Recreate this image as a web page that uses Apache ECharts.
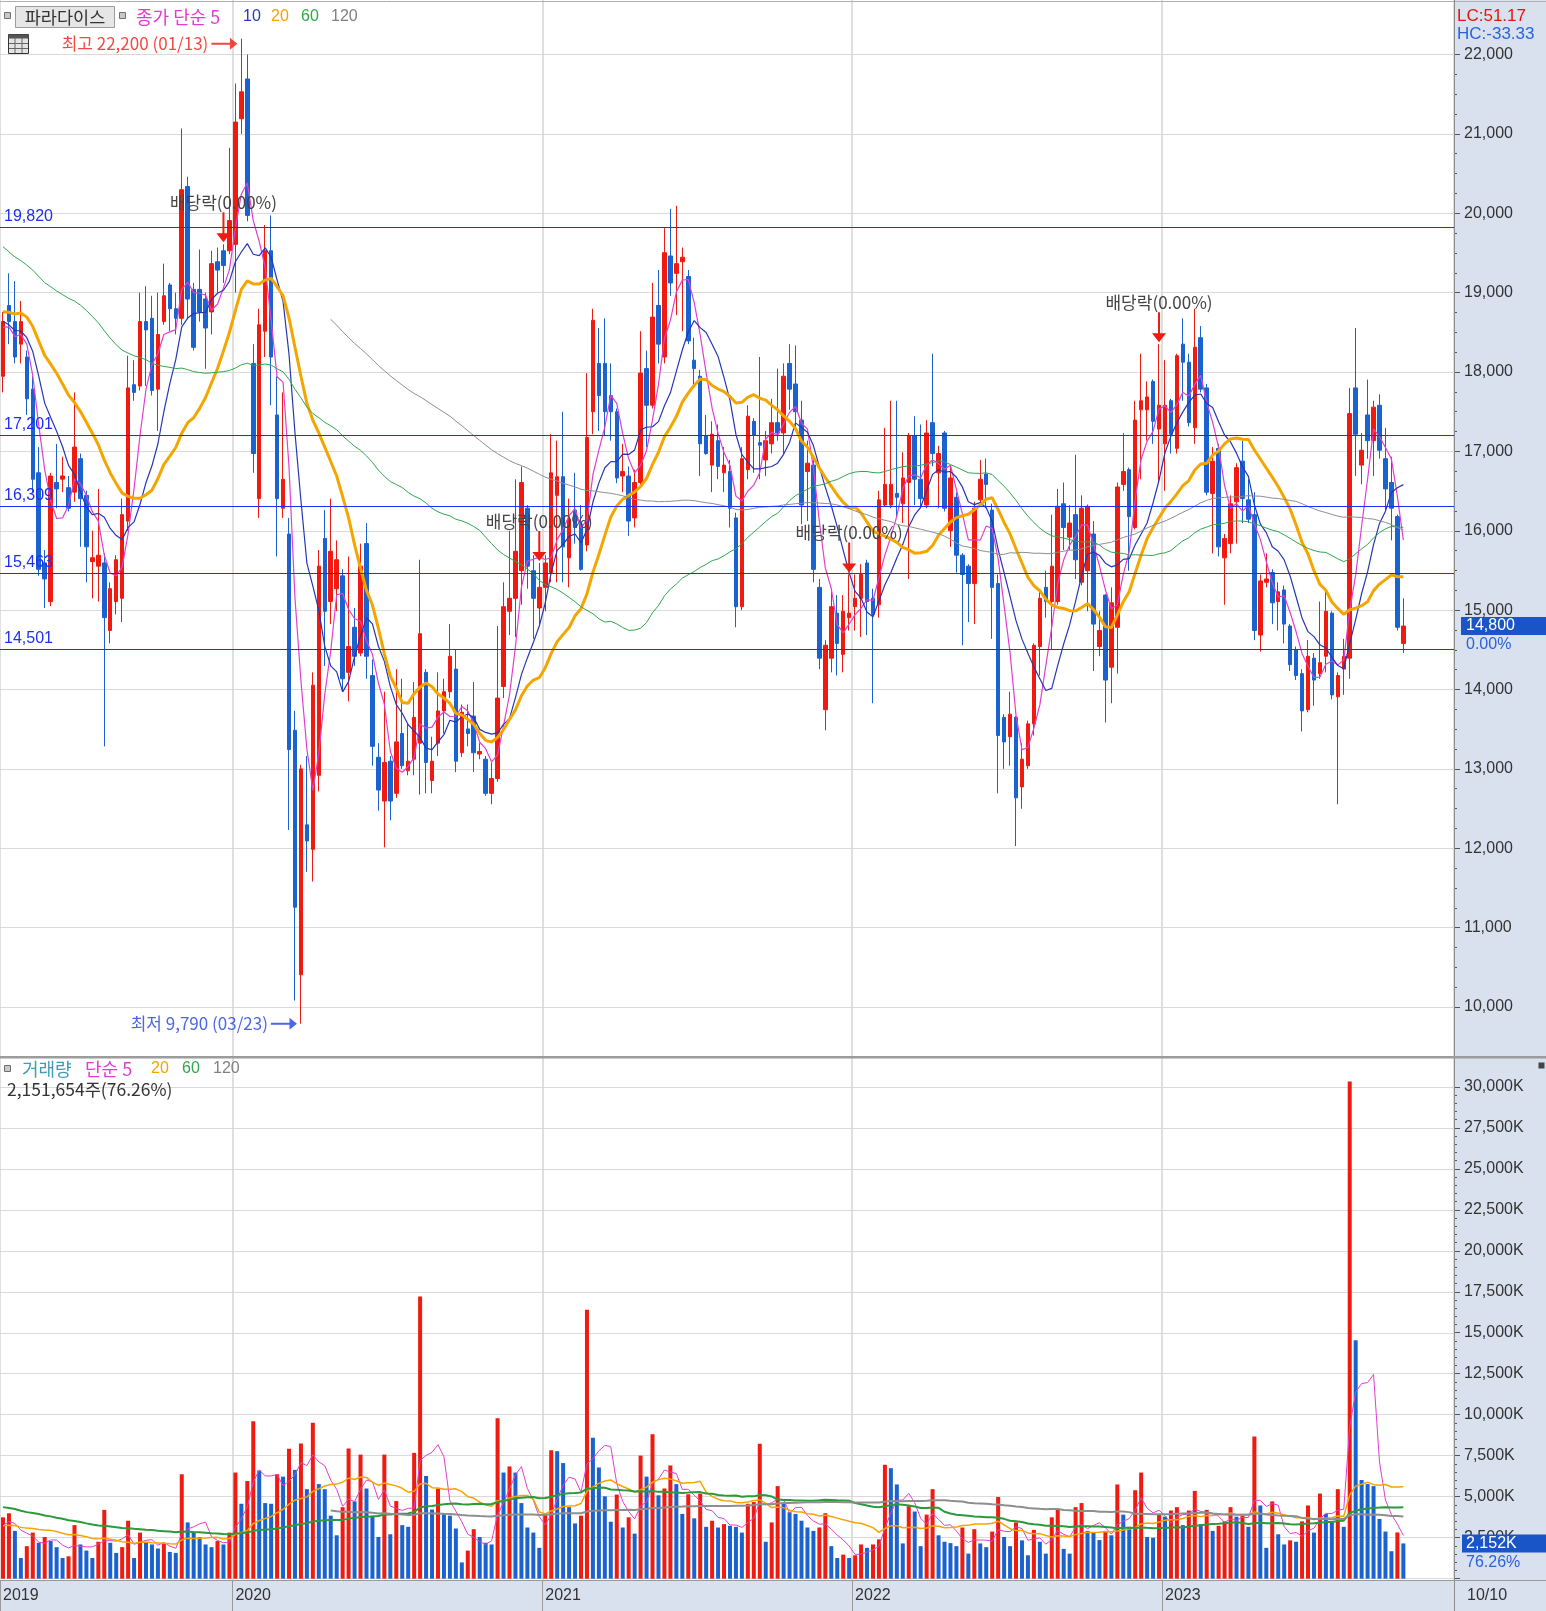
<!DOCTYPE html>
<html><head><meta charset="utf-8">
<script src="https://cdn.jsdelivr.net/npm/echarts@6.0.0/dist/echarts.min.js"></script>
<style>html,body{margin:0;padding:0;background:#fff}#c{width:1546px;height:1611px}</style>
</head><body><div id="c"></div>
<script>
// ---------------- DATA (weekly, from 2019-04-08) ----------------
const startDate = '2019-04-08';
const opens = [
17946,18838,18635,18351,18189,17784,16730,15595,15108,16608,
16650,16543,16487,16908,16446,15611,15554,15595,14743,15108,
15149,16122,17840,17824,18635,18676,17784,18635,19097,18797,
18676,20338,19041,19041,18919,18757,19389,19527,19527,19608,
21190,21692,18108,16405,18514,19527,17459,16284,15959,13486,
10405,12295,11986,12919,15903,15108,15270,15432,14216,14784,
14459,15838,14175,13146,12595,13097,12692,13446,12976,13122,
13324,14216,12854,13324,13730,13973,14257,13203,13503,13665,
13187,13122,12692,12878,14038,14986,15149,15497,16284,15497,
15027,15287,15473,16446,16681,15659,16260,16081,15821,17500,
18108,18108,17703,17500,16689,16689,16162,16608,18043,17581,
18838,18189,19462,19243,19389,19203,18149,17946,17200,16827,
17135,16730,16746,16162,15043,16770,17378,17111,16892,17095,
17362,17232,18108,17849,17394,16746,16827,15287,13746,14395,
14962,14443,14905,15043,15149,15594,15149,15068,16324,16324,
16470,16340,16608,17200,16649,16324,17362,16730,17232,16000,
16422,15692,15554,15335,16389,16714,16260,15335,13649,13405,
13649,12773,13040,13567,14541,15287,15108,15108,16340,15919,
16203,15351,15497,15959,14541,15189,14281,14784,16584,16770,
16041,17524,17524,17881,17281,17095,17638,17038,18351,18124,
17297,18432,17800,16470,17038,15659,15838,16365,16876,16389,
16203,14686,15351,15473,15108,15254,14800,14500,14200,13746,
14395,14200,14419,14962,13908,14257,14395,17800,16827,17459,
17135,17581,16908,16608,16178,14581];
const closes = [
18635,18635,18189,18635,17662,16649,15514,15392,16689,16527,
16690,16284,17054,16405,15798,15660,15692,14906,15270,15635,
16203,17800,17743,18635,18530,17767,18473,18960,18797,18676,
20297,18919,18311,18757,18554,19365,19284,19341,19908,21149,
21530,19973,16973,18595,19527,18189,16405,16649,13243,11257,
13000,12092,14054,15554,14986,15741,15635,14135,14541,14419,
15554,14419,13284,12733,13081,12595,13340,13040,13097,13649,
14703,13081,13097,13730,13973,14419,13097,13713,13446,13203,
13219,12692,12878,13892,15043,15149,15741,16608,15554,15149,
15287,15594,16730,16681,15797,16146,16041,15514,17176,18651,
17703,17500,17500,16665,16746,16122,16608,17986,17581,18692,
18351,19503,19122,19365,19446,18392,18043,17095,16973,17216,
16811,16827,16284,15043,16908,17443,17200,17078,17135,17362,
17232,17946,17784,17500,16324,16851,15514,14395,14557,15043,
14581,14986,14962,15149,15449,15108,14946,16389,16584,16584,
16422,16665,17200,16649,16405,17232,16973,16973,16284,16665,
15692,15449,15335,16284,16649,16584,15287,13421,13340,13689,
12635,13122,13567,14557,15149,15108,15554,16308,16041,16097,
15635,16284,16308,14824,14743,14119,15092,16551,16746,16178,
17394,17638,17686,17378,17581,17581,17216,18205,18124,17362,
18311,17784,16486,16876,15797,15903,16340,16795,16405,16146,
14743,15368,15392,15092,15230,14824,14313,14176,13730,14419,
14119,14338,14986,13932,14176,14419,17476,17216,17014,17135,
17557,17014,16527,16284,14784,14800];
const lows = [
17743,18351,18108,18108,17460,16487,15433,15027,15050,16284,
16487,16243,16365,15798,15351,15149,15108,13284,14581,14946,
14849,16000,17638,17767,17824,17703,17257,18595,18514,18473,
18595,18676,18270,18635,18041,18473,19000,19122,19486,19000,
21000,19900,16730,16162,18189,17581,15676,16162,12230,10081,
9790,11703,11581,12716,14297,14824,14986,13973,13851,14297,
14419,14135,13040,12473,12011,12351,12635,13000,12919,12919,
12676,12692,12692,13162,13446,13892,12959,13150,13284,12959,
13122,12660,12554,12838,13892,14686,14662,15068,15270,14638,
14824,14986,15351,15351,15351,15287,15838,15497,15740,17216,
17257,17200,17135,16600,16486,15935,16041,16551,17054,17540,
18108,18108,18959,18716,18514,18351,17824,16689,16957,16486,
16649,16486,16041,14784,15000,16649,16730,16649,16689,16973,
17135,16973,17524,17257,16081,16122,15351,14257,13487,14216,
14176,14216,14743,14743,14662,14686,13827,14905,16308,16284,
16162,16097,15392,16324,16284,16284,16811,16284,16243,15797,
15473,14557,14849,14824,16324,16284,14638,12692,13000,13040,
12027,12498,13000,13421,14176,14905,14500,15068,15757,15757,
15392,15311,14986,14233,14419,13584,13827,14200,16503,15497,
16016,16649,17135,17095,16608,16503,16973,16973,17638,17313,
17095,17743,16446,15716,15676,15068,15716,15838,16097,16097,
14622,14476,15287,14824,14743,14581,14232,14119,13470,13713,
13795,14135,14216,13876,12554,13932,14135,16689,16584,16908,
16689,16908,16259,15878,14743,14459];
const highs = [
18757,19243,19146,18895,18270,17946,17054,15757,16730,17094,
16933,16689,17743,16973,16503,16000,16527,15716,15351,15692,
16405,18205,18149,19000,19081,18960,19000,19365,19122,19000,
21068,20459,19122,19543,19000,19527,19568,19608,20824,21635,
22200,22000,18351,18797,19851,19973,17946,17743,16162,13730,
13050,13162,14216,15757,16260,16405,15878,15514,15676,15027,
15838,16097,14378,13324,13973,13162,14257,14135,13567,14094,
15635,14257,13405,14216,14135,14824,14500,13811,13811,14094,
13324,13162,13081,14800,15351,15999,16649,16811,16324,15692,
15594,15692,17216,17135,17500,16405,16730,16324,17986,18797,
18554,18676,18108,17540,17095,16811,16770,18514,18270,19122,
19284,19811,20054,20094,19568,19284,18432,18027,17459,17378,
17338,17054,16892,16227,17054,17581,17419,18189,17257,17662,
18043,18108,18351,18335,17638,17135,16908,15392,14622,15270,
15189,15189,15450,15449,15578,15635,15270,16503,17297,17638,
17638,16989,17232,17443,17338,17394,18230,17070,17257,16827,
16486,15716,15578,16365,16892,16908,16340,15449,13689,13973,
13665,13324,13608,14581,15254,15497,16203,16527,16608,16324,
16957,16446,16330,16122,14986,15205,15287,16608,17232,16795,
17638,18230,17881,17905,18350,18149,17662,18230,18676,18230,
18797,18578,17849,17054,17095,15959,16446,16851,17135,16649,
16486,15449,15716,15514,15351,15311,14824,14541,14257,14622,
14459,15108,15270,14986,14216,14638,17800,18554,17232,17905,
17638,17719,17297,16932,16203,15149];
// weekly volume, thousand shares
const volumes = [
3743,3991,2916,1261,1985,2812,2192,2544,2295,1923,
1261,1365,3267,2089,1716,1261,2254,4198,2192,1572,
1923,3536,1261,2812,2192,2089,1841,2150,1634,1572,
6369,3433,2812,2544,2089,1923,2295,2089,2812,6473,
4570,5956,9596,6597,4612,4570,6369,6225,7920,6638,
8251,5460,9513,5770,5460,3846,2647,4363,7941,4715,
7569,5501,3846,2544,7569,2709,4736,3267,3164,7672,
17206,6266,4219,5501,3950,3846,3061,993,1716,3019,
2544,2192,2089,9782,6473,6845,6473,4612,3123,2812,
1882,3950,7838,7776,7052,4363,3371,3846,16399,8603,
6783,5025,3474,5129,3123,3743,2750,7507,6225,8810,
5087,5501,6907,5770,3950,5149,3681,5191,3164,3536,
3123,3329,3226,3164,2812,4570,4674,8231,2254,3433,
5646,4612,4053,3950,3536,3123,2916,3123,3991,1985,
1261,1468,1261,1427,2089,1882,2089,2399,6948,6742,
5749,2151,4426,4095,1985,3909,5460,2647,2254,2171,
1985,3123,1530,3019,2151,1923,2875,4984,2544,1985,
3433,2337,1427,2978,2254,1530,3743,4198,1820,1530,
4363,4612,2916,2812,2358,2875,2647,5749,3909,3164,
5397,6473,2544,2502,3950,3784,4157,4363,3267,4157,
5356,3329,4198,2916,3226,3495,4363,3784,3846,3164,
8665,4467,1882,4715,2709,2089,2337,2254,3495,4467,
2812,5191,3950,3433,5460,3164,30317,14538,6018,5770,
5646,3640,2875,1675,2822,2152];
// estimated history before the visible window (only feeds the moving averages)
const priorCloses = [
24500,24000,23500,23300,23200,
22500,22000,21500,21000,20500,20300,20000,19800,19700,19500,19000,
19200,19500,19800,20200,20500,20800,21000,20600,20300,20000,19800,19900,20200,20400,20100,
19800,19500,19600,19900,20100,19800,19400,19200,19000,18800,18900,19100,19300,19000,
18800,18600,18400,18700,19000,19200,19000,18900,18800,19400,
19100,18900,18700,18500,18400,18600,18800,18500,18270];
const priorVolumes = [
8500,7000,9000,7500,6800,
7200,6500,8000,6800,5900,6200,7500,5800,6600,5500,6900,6100,5700,6400,5600,6000,5000,
4800,4200,5100,3900,3600,4400,3800,3500,4100,3700,3300,4000,3900,3600,4300,3500,3800,3700,3400,4100,3600,3500,3900,
3400,3100,3600,2900,3300,3500,3000,2800,3200,3600,3100,2900,3300,3400,3200,2800,3500,3300,2900];
const priceLevels = [19820, 17201, 16309, 15463, 14501];
const exDividendIdx = [37, 90, 142, 194];
const maPeriods = [5, 10, 20, 60, 120];
const volMaPeriods = [5, 20, 60, 120];
const priceAxis = {min: 10000, max: 22000, step: 1000};
const volAxis = {min: 0, max: 30000, step: 2500};
const PAD_SLOTS = 8;

// ---------------- helpers ----------------
const FONT = "'Liberation Sans', 'Noto Sans CJK KR', sans-serif";
const KFONT = "'Noto Sans CJK KR', 'Liberation Sans', sans-serif";
const UP = '#f01a10', DOWN = '#1a62d0', LOWBLUE = '#2040e0';
const fmt = v => String(v).replace(/\B(?=(\d{3})+(?!\d))/g, ',');
const N = closes.length;
const cats = [];
{ let t = Date.parse(startDate + 'T00:00:00Z');
  for (let i = 0; i < N + PAD_SLOTS; i++) { cats.push(new Date(t).toISOString().slice(0, 10)); t += 7 * 86400000; } }
const isYearStart = i => i === 0 || (i > 0 && i < cats.length && cats[i].slice(0, 4) !== cats[i - 1].slice(0, 4));
function movingAvg(prior, vals, n) {
  const all = prior.concat(vals), off = prior.length, out = [];
  for (let i = 0; i < vals.length; i++) {
    const e = i + off, s = e - n + 1;
    if (s < 0) { out.push('-'); continue; }
    let sum = 0; for (let k = s; k <= e; k++) sum += all[k];
    out.push(+(sum / n).toFixed(2));
  }
  return out;
}
const candleData = closes.map((c, i) => [opens[i], c, lows[i], highs[i]]);
const volData = volumes.map((v, i) => {
  const prev = i ? volumes[i - 1] : priorVolumes[priorVolumes.length - 1];
  return {value: v, itemStyle: {color: v > prev ? UP : DOWN}};
});
let hiIdx = 0, loIdx = 0;
highs.forEach((h, i) => { if (h > highs[hiIdx]) hiIdx = i; });
lows.forEach((l, i) => { if (l < lows[loIdx]) loIdx = i; });
const mmdd = i => cats[i].slice(5, 7) + '/' + cats[i].slice(8, 10);
const lastClose = closes[N - 1], lastVol = volumes[N - 1];

const maStyle = {5: ['#e23ed2', 1.2], 10: ['#2536b5', 1.2], 20: ['#f5a500', 3], 60: ['#2ea84a', 1], 120: ['#8e8e8e', 1]};
const vmaStyle = {5: ['#e23ed2', 1], 20: ['#f5a500', 1.5], 60: ['#2a9a3a', 2], 120: ['#8e8e8e', 2]};
const RIGHT_ARROW = 'path://M0,5 L20,5 L20,0 L28,6 L20,12 L20,7 L0,7 Z';

const series = [];
series.push({
  type: 'candlestick', xAxisIndex: 0, yAxisIndex: 0, data: candleData, barWidth: 4, clip: false, z: 2,
  itemStyle: {color: UP, color0: DOWN, borderColor: UP, borderColor0: DOWN, borderWidth: 1},
  markLine: {
    silent: true, symbol: ['none', 'none'], animation: false,
    lineStyle: {color: '#1e2ff0', width: 1.2, type: 'solid'},
    label: {show: true, position: 'insideStartTop', distance: [4, 3], formatter: p => fmt(p.value),
            color: '#1e2ff0', fontSize: 16, fontFamily: FONT},
    emphasis: {disabled: true},
    data: priceLevels.map(v => ({yAxis: v}))
  },
  markPoint: {
    silent: true, animation: false,
    data: exDividendIdx.map(i => ({
      coord: [i, highs[i]],
      symbol: 'path://M6,0 L8,0 L8,21 L14,21 L7,30 L0,21 L6,21 Z',
      symbolSize: [14, 30], symbolOffset: [0, -17],
      itemStyle: {color: UP},
      label: {show: true, position: 'top', distance: 1, formatter: '배당락(0.00%)', color: '#444', fontSize: 17, fontFamily: KFONT}
    }))
  }
});
// highest / lowest price annotations (points may sit outside the 10,000–22,000 grid range)
series.push({
  type: 'scatter', xAxisIndex: 0, yAxisIndex: 0, clip: false, silent: true, z: 5,
  data: [
    {value: [hiIdx, highs[hiIdx]], symbol: RIGHT_ARROW, symbolSize: [26, 12], symbolOffset: [-17, 5],
     itemStyle: {color: UP},
     label: {show: true, position: 'left', distance: 3, formatter: '최고 ' + fmt(highs[hiIdx]) + ' (' + mmdd(hiIdx) + ')',
             color: UP, fontSize: 17, fontFamily: KFONT}},
    {value: [loIdx, lows[loIdx]], symbol: RIGHT_ARROW, symbolSize: [26, 12], symbolOffset: [-17, 0],
     itemStyle: {color: LOWBLUE},
     label: {show: true, position: 'left', distance: 3, formatter: '최저 ' + fmt(lows[loIdx]) + ' (' + mmdd(loIdx) + ')',
             color: LOWBLUE, fontSize: 17, fontFamily: KFONT}}
  ]
});
maPeriods.forEach(n => series.push({
  type: 'line', xAxisIndex: 0, yAxisIndex: 0, data: movingAvg(priorCloses, closes, n), showSymbol: false, z: 3,
  lineStyle: {color: maStyle[n][0], width: maStyle[n][1]}, silent: true
}));
series.push({type: 'bar', xAxisIndex: 1, yAxisIndex: 1, data: volData, barWidth: 4, clip: false, z: 2});
volMaPeriods.forEach(n => series.push({
  type: 'line', xAxisIndex: 1, yAxisIndex: 1, data: movingAvg(priorVolumes, volumes, n), showSymbol: false, z: 3,
  lineStyle: {color: vmaStyle[n][0], width: vmaStyle[n][1]}, silent: true
}));
series.push({type: 'line', xAxisIndex: 2, yAxisIndex: 2, data: []});

const valAxisCommon = {
  type: 'value', position: 'right', scale: false,
  axisLine: {show: false},
  axisTick: {show: true, length: 6, lineStyle: {color: '#555'}},
  splitLine: {show: true, lineStyle: {color: '#dadada', width: 1.2}},
};
const option = {
  animation: false,
  backgroundColor: '#d8e1ed',
  textStyle: {fontFamily: FONT},
  grid: [
    {left: 0, top: 54.5, width: 1454, height: 952.5, containLabel: false, outerBoundsMode: 'none'},
    {left: 0, top: 1086.8, width: 1454, height: 491.9, containLabel: false, outerBoundsMode: 'none'},
    {left: 0, top: 0, width: 1454, height: 1580, show: true, backgroundColor: '#ffffff', borderWidth: 0, containLabel: false, outerBoundsMode: 'none'}
  ],
  xAxis: [
    {type: 'category', gridIndex: 0, data: cats, boundaryGap: true, show: false},
    {type: 'category', gridIndex: 1, data: cats, boundaryGap: true, show: false},
    {type: 'category', gridIndex: 2, data: cats, boundaryGap: true, position: 'bottom',
     axisLine: {show: true, lineStyle: {color: '#9a9a9a', width: 1}},
     axisTick: {show: true, interval: (i) => isYearStart(i), length: 31, lineStyle: {color: '#9a9a9a', width: 1}},
     axisLabel: {show: true, interval: (i) => isYearStart(i), formatter: v => v.slice(0, 4), align: 'left',
                 margin: 8, color: '#333', fontSize: 16, fontFamily: FONT, hideOverlap: false},
     splitLine: {show: true, interval: (i) => isYearStart(i), lineStyle: {color: '#d4d4d4', width: 1.5}}}
  ],
  yAxis: [
    Object.assign({}, valAxisCommon, {gridIndex: 0, min: priceAxis.min, max: priceAxis.max, interval: priceAxis.step,
      minorTick: {show: true, splitNumber: 4, length: 3, lineStyle: {color: '#555'}},
      axisLabel: {show: true, margin: 10, color: '#333', fontSize: 16, fontFamily: FONT, formatter: v => fmt(v)}}),
    Object.assign({}, valAxisCommon, {gridIndex: 1, min: volAxis.min, max: volAxis.max, interval: volAxis.step,
      minorTick: {show: true, splitNumber: 5, length: 3, lineStyle: {color: '#555'}},
      axisLabel: {show: true, margin: 10, color: '#333', fontSize: 16, fontFamily: FONT, formatter: v => v ? fmt(v) + 'K' : ''}}),
    {type: 'value', gridIndex: 2, position: 'right', min: 0, max: 1, axisLine: {show: true, lineStyle: {color: '#8a8a8a'}},
     axisTick: {show: false}, axisLabel: {show: false}, splitLine: {show: false}}
  ],
  series: series
};
const chart = echarts.init(document.getElementById('c'), null, {width: 1546, height: 1611});
chart.setOption(option);

// ---------------- overlay texts / panels ----------------
const T = (x, y, text, color, size, family, align) => ({
  type: 'text', x: x, y: y, z: 50, silent: true,
  style: {text: text, fill: color, fontSize: size, fontFamily: family || FONT,
          textAlign: align || 'left', align: align || 'left', textVerticalAlign: 'middle', verticalAlign: 'middle'}
});
const R = (x, y, w, h, fill, stroke, z) => ({type: 'rect', z: z || 40, silent: true, shape: {x: x, y: y, width: w, height: h},
  style: {fill: fill, stroke: stroke || null, lineWidth: 1}});
const L = (x1, y1, x2, y2, color, w) => ({type: 'line', z: 45, silent: true, shape: {x1: x1, y1: y1, x2: x2, y2: y2},
  style: {stroke: color, lineWidth: w || 1}});

const py = chart.convertToPixel({yAxisIndex: 0}, lastClose);
const vy = chart.convertToPixel({yAxisIndex: 1}, lastVol);
const lc = ((lastClose - lows[loIdx]) / lows[loIdx] * 100).toFixed(2);
const hc = ((lastClose - highs[hiIdx]) / highs[hiIdx] * 100).toFixed(2);

const G = [
  L(0, 1.5, 1546, 1.5, '#b0b0b0', 1),
  R(0, 1056, 1546, 2.5, '#9c9c9c', null, 46),
  L(1454.5, 0, 1454.5, 1611, '#8c8c8c', 1),
  L(0, 1580.5, 1546, 1580.5, '#9a9a9a', 1),
  // header row
  R(4.5, 12.5, 6, 6, '#c8c8c8', '#707070'),
  R(15.5, 6.5, 99, 21, '#e6e6e6', '#9c9c9c'),
  T(65, 17, '파라다이스', '#333', 17.5, KFONT, 'center'),
  R(119.5, 12.5, 6, 6, '#c8c8c8', '#707070'),
  T(136, 17, '종가 단순 5', '#e03cd0', 18, KFONT),
  T(243, 17, '10', '#2638c0', 16),
  T(271, 17, '20', '#f0a400', 16),
  T(301, 17, '60', '#2ea84a', 16),
  T(331, 17, '120', '#808080', 16),
  // calendar icon
  R(8.5, 34.5, 20, 19, '#e4e4e4', '#333'),
  R(8.5, 34.5, 20, 4, '#555', null, 41),
  L(15, 38, 15, 53, '#666', 1), L(22, 38, 22, 53, '#666', 1),
  L(9, 43.5, 28, 43.5, '#666', 1), L(9, 48.5, 28, 48.5, '#666', 1),
  // right strip
  T(1457, 16, 'LC:' + lc, '#ee1010', 17),
  T(1457, 34, 'HC:' + hc, '#2a62dc', 17),
  R(1461, py - 9, 85, 18, '#1a55c8', null, 48),
  T(1466, py, fmt(lastClose), '#ffffff', 16),
  T(1466, py + 19, '0.00%', '#2a62dc', 16),
  R(1462, vy - 9, 84, 18, '#1a55c8', null, 48),
  T(1466, vy, fmt(lastVol) + 'K', '#ffffff', 16),
  T(1466, vy + 19, '76.26%', '#2a62dc', 16),
  T(1467, 1596, '10/10', '#333', 16),
  // volume legend
  R(4.5, 1065.5, 6, 6, '#c8c8c8', '#707070'),
  T(22, 1069, '거래량', '#3a9db5', 18, KFONT),
  T(85, 1069, '단순 5', '#e03cd0', 18, KFONT),
  T(151, 1069, '20', '#f0a400', 16),
  T(182, 1069, '60', '#2ea84a', 16),
  T(213, 1069, '120', '#808080', 16),
  T(7, 1089, '2,151,654주(76.26%)', '#333', 17.5, KFONT),
  R(1538.5, 1062.5, 6, 6, '#444', null, 48)
];
chart.setOption({graphic: {elements: G}});
</script>
</body></html>
